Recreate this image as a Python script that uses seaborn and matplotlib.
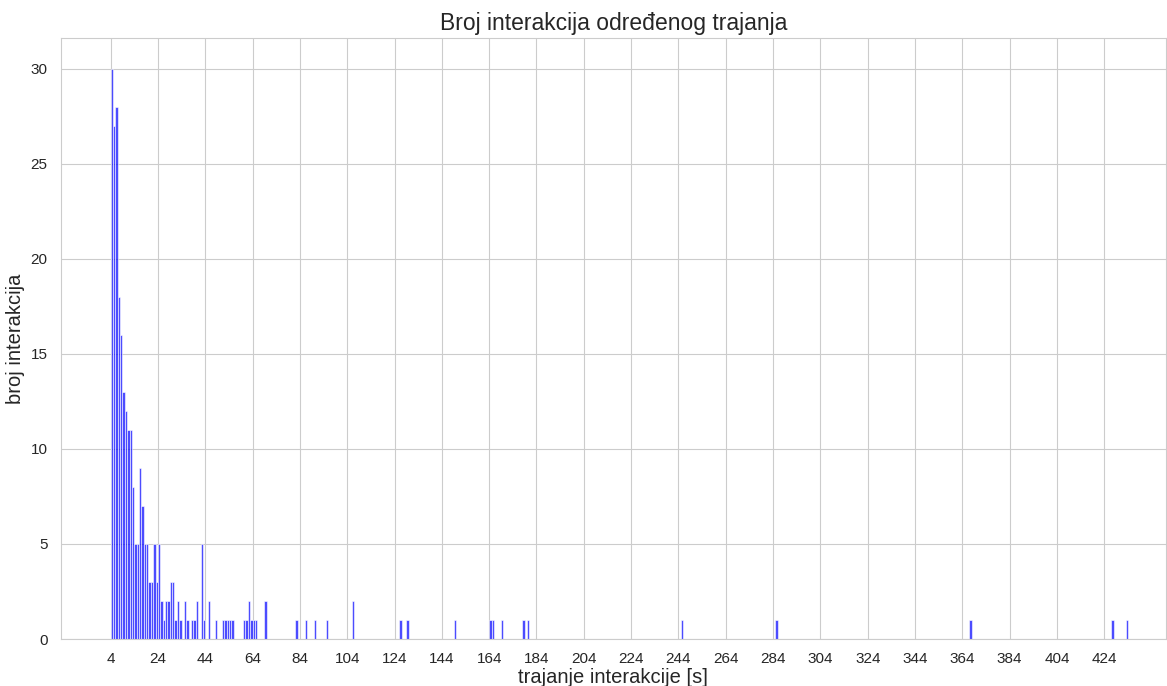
import numpy as np
import pandas as pd
import matplotlib
matplotlib.use('Agg')
import matplotlib.pyplot as plt
import seaborn as sns

# trajanje interakcije [s] i broj interakcija tog trajanja (ocitano sa slike)
durations = [4, 5, 6, 7, 8, 9, 10, 11, 12, 13, 14, 15, 16, 17, 18, 19, 20, 21, 22, 23,
             24, 25, 26, 27, 28, 29, 30, 31, 32, 33, 35, 36, 38, 39, 40, 42, 43, 45, 48,
             51, 52, 53, 54, 55, 60, 61, 62, 63, 64, 65, 69, 82, 86, 90, 95, 106, 126,
             129, 149, 164, 165, 169, 178, 180, 245, 285, 367, 427, 433]
counts = [30, 27, 28, 18, 16, 13, 12, 11, 11, 8, 5, 5, 9, 7, 5, 5, 3, 3, 5, 3,
          5, 2, 1, 2, 2, 3, 3, 1, 2, 1, 2, 1, 1, 1, 2, 5, 1, 2, 1,
          1, 1, 1, 1, 1, 1, 1, 2, 1, 1, 1, 2, 1, 1, 1, 1, 2, 1,
          1, 1, 1, 1, 1, 1, 1, 1, 1, 1, 1, 1]
xtick_values = list(range(4, 434, 20))

df = pd.DataFrame({'trajanje': np.repeat(durations, counts)})

sns.set_theme(style='whitegrid', rc={'grid.linewidth': 0.8, 'axes.linewidth': 0.8})
plt.rcParams['font.family'] = ['Liberation Sans', 'DejaVu Sans']

fig = plt.figure(figsize=(11.67, 6.86), dpi=100)
ax = fig.add_axes([0.052, 0.0685, 0.947, 0.876])

sns.histplot(data=df, x='trajanje', binwidth=1, binrange=(4, 434),
             color='blue', alpha=0.7, edgecolor='white', linewidth=0.4, ax=ax)

ax.set_xticks(xtick_values)
ax.set_xlim(-17.1, 450)
ax.set_ylim(0, 31.6)
ax.tick_params(axis='both', labelsize=11)
ax.set_title('Broj interakcija određenog trajanja', fontsize=16.5)
ax.set_xlabel('trajanje interakcije [s]', fontsize=14.5, labelpad=1)
ax.set_ylabel('broj interakcija', fontsize=14.5)

plt.savefig('out.png', dpi=100)
plt.close()
